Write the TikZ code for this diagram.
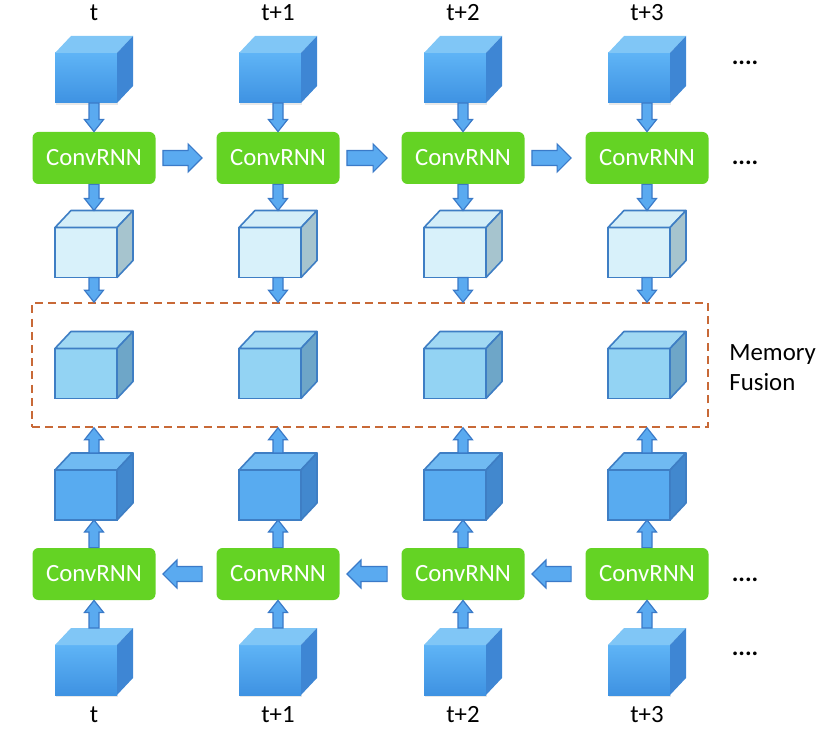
\documentclass[tikz,border=0pt]{standalone}
\usepackage{fontspec}
\setmainfont{Carlito}
\usetikzlibrary{shadows,calc}

\definecolor{rnngreen}{RGB}{100,211,36}
\definecolor{arrowfill}{RGB}{90,170,240}
\definecolor{arrowline}{RGB}{58,122,200}
\definecolor{fusionline}{RGB}{200,105,55}
\definecolor{inputtopc}{RGB}{95,180,246}
\definecolor{inputbotc}{RGB}{62,146,226}
\definecolor{inputlid}{RGB}{128,198,246}
\definecolor{inputwall}{RGB}{62,134,212}
\definecolor{hiddenfacec}{RGB}{216,241,250}
\definecolor{hiddenlid}{RGB}{212,238,248}
\definecolor{hiddenwall}{RGB}{166,196,206}
\definecolor{memoryfacec}{RGB}{147,211,243}
\definecolor{memorylid}{RGB}{160,216,243}
\definecolor{memorywall}{RGB}{110,166,200}
\definecolor{statefacec}{RGB}{88,171,240}
\definecolor{statelid}{RGB}{112,186,242}
\definecolor{statewall}{RGB}{66,136,206}
\definecolor{cubeline}{RGB}{62,126,196}

% cube: #1 name, #2 front face centre, #3 colour set
\newcommand{\drawcube}[3]{%
  \node[cube front, #3 front] (#1) at (#2) {};
  \path[cube edge, #3 top] (#1.north west) -- ++(16,-17) -- ++(62,0) -- (#1.north east) -- cycle;
  \path[cube edge, #3 right] (#1.north east) -- ++(16,-17) -- ++(0,50) -- (#1.south east) -- cycle;
  \coordinate (#1-back) at ([shift={(8,-17)}]#1.north);
}

% fat arrow: #1 shaft half, #2 head half, #3 head length, #4 from, #5 to
\newcommand{\fatarrow}[5]{%
  \filldraw[fat arrow] let \p1=(#4), \p2=(#5),
      \n1={atan2(\y2-\y1,\x2-\x1)}, \n2={veclen(\x2-\x1,\y2-\y1)} in
    [shift={(\p1)}, rotate=\n1]
    (0pt,-#1) -- (\n2-#3,-#1) -- (\n2-#3,-#2) -- (\n2,0pt) -- (\n2-#3,#2) -- (\n2-#3,#1) -- (0pt,#1) -- cycle;
}
\newcommand{\vertarrow}[2]{\fatarrow{2.5pt}{4.75pt}{6pt}{#1}{#2}}
\newcommand{\horzarrow}[2]{\fatarrow{3.75pt}{7pt}{7pt}{#1}{#2}}

\begin{document}
\begin{tikzpicture}[x=0.5pt, y=-0.5pt,
    every node/.style={font=\fontsize{12.4}{15}\selectfont},
    rnnbox/.style={fill=rnngreen, rounded corners=3pt, minimum width=61.5pt, minimum height=26pt, inner sep=0pt, text=white},
    steplabel/.style={text=black, inner sep=0pt},
    dots/.style={font=\fontsize{12.4}{15}\selectfont\bfseries, inner sep=0pt},
    fusionbox/.style={draw=fusionline, line width=0.8pt, dash pattern=on 4pt off 2.6pt, minimum width=338pt, minimum height=62pt, inner sep=0pt},
    fat arrow/.style={fill=arrowfill, draw=arrowline, line width=0.6pt, line join=miter},
    cube front/.style={minimum width=31pt, minimum height=25pt, inner sep=0pt, outer sep=0pt},
    cube edge/.style={line width=0.8pt, line join=round},
    input front/.style={top color=inputtopc, bottom color=inputbotc, drop shadow={shadow xshift=0.3pt, shadow yshift=-1.2pt, opacity=0.18}},
    input top/.style={fill=inputlid},
    input right/.style={fill=inputwall},
    hidden front/.style={fill=hiddenfacec, draw=cubeline, line width=0.8pt},
    hidden top/.style={fill=hiddenlid, draw=cubeline},
    hidden right/.style={fill=hiddenwall, draw=cubeline},
    memory front/.style={fill=memoryfacec, draw=cubeline, line width=0.8pt},
    memory top/.style={fill=memorylid, draw=cubeline},
    memory right/.style={fill=memorywall, draw=cubeline},
    state front/.style={fill=statefacec, draw=cubeline, line width=0.8pt},
    state top/.style={fill=statelid, draw=cubeline},
    state right/.style={fill=statewall, draw=cubeline}]
  \useasboundingbox (0,0) rectangle (830,737);

  \node[fusionbox] (fusion) at (370,365) {};
  \node[anchor=west, align=left, inner sep=0pt] (fusionlabel) at (729,368) {Memory\\Fusion};

  \foreach \i/\x/\lab in {1/94/t, 2/278/t+1, 3/463/t+2, 4/647/t+3}{
    \node[steplabel] (topl\i) at (\x,13) {\lab};
    \node[steplabel] (botl\i) at (\x,715) {\lab};
    \drawcube{inT\i}{\x-8,78}{input}
    \node[rnnbox] (rnnT\i) at (\x,158) {ConvRNN};
    \drawcube{hidT\i}{\x-8,252.5}{hidden}
    \drawcube{mem\i}{\x-8,373.5}{memory}
    \drawcube{hidB\i}{\x-8,495}{state}
    \node[rnnbox] (rnnB\i) at (\x,574) {ConvRNN};
    \drawcube{inB\i}{\x-8,670}{input}
    % vertical flow
    \vertarrow{inT\i.south -| rnnT\i}{rnnT\i.north}
    \vertarrow{rnnT\i.south}{hidT\i-back}
    \vertarrow{hidT\i.south -| rnnT\i}{fusion.north -| rnnT\i}
    \vertarrow{hidB\i-back}{fusion.south -| rnnB\i}
    \vertarrow{rnnB\i.north}{hidB\i.south -| rnnB\i}
    \vertarrow{inB\i-back}{rnnB\i.south}
  }

  % recurrent links
  \foreach \i/\j in {1/2, 2/3, 3/4}{
    \horzarrow{[xshift=3.5pt]rnnT\i.east}{[xshift=-7pt]rnnT\j.west}
    \horzarrow{[xshift=-7pt]rnnB\j.west}{[xshift=3.5pt]rnnB\i.east}
  }

  \node[dots] (dotsT1) at (745,63) {....};
  \node[dots] (dotsT2) at (745,163) {....};
  \node[dots] (dotsB1) at (745,580) {....};
  \node[dots] (dotsB2) at (745,654) {....};
\end{tikzpicture}
\end{document}
